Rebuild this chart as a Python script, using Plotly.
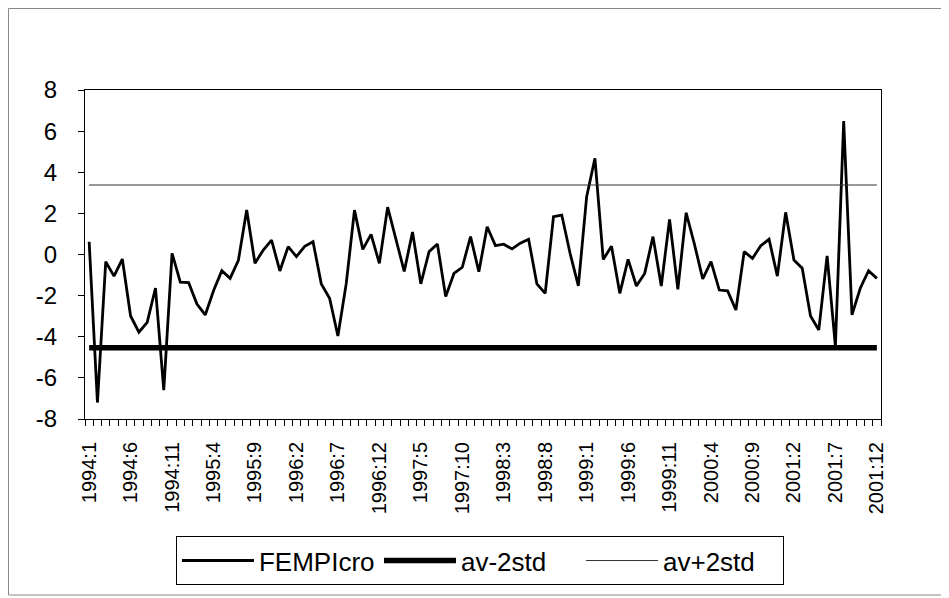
import plotly.graph_objects as go

# ---- data ----
years = [1994, 1995, 1996, 1997, 1998, 1999, 2000, 2001]
months = list(range(1, 13))
categories = [f"{y}:{m}" for y in years for m in months]

fempicro = [
    0.62, -7.2, -0.35, -1.05, -0.22, -2.99, -3.78, -3.3, -1.63, -6.6,
    0.06, -1.35, -1.37, -2.41, -2.94, -1.76, -0.79, -1.16, -0.28, 2.16,
    -0.43, 0.22, 0.7, -0.8, 0.38, -0.1, 0.4, 0.62, -1.43, -2.13,
    -3.96, -1.43, 2.16, 0.25, 0.98, -0.43, 2.3, 0.74, -0.82, 1.09,
    -1.43, 0.14, 0.51, -2.05, -0.92, -0.62, 0.87, -0.84, 1.35, 0.43,
    0.5, 0.27, 0.55, 0.74, -1.43, -1.89, 1.84, 1.92, 0.06, -1.53,
    2.81, 4.68, -0.24, 0.4, -1.89, -0.24, -1.53, -0.92, 0.87, -1.53,
    1.71, -1.69, 2.03, 0.5, -1.19, -0.35, -1.73, -1.77, -2.7, 0.14,
    -0.19, 0.43, 0.74, -1.05, 2.05, -0.27, -0.67, -2.99, -3.67, -0.07,
    -4.45, 6.49, -2.94, -1.64, -0.79, -1.16,
]
av_minus_2std_value = -4.53
av_plus_2std_value = 3.38
av_minus_2std = [av_minus_2std_value] * len(categories)
av_plus_2std = [av_plus_2std_value] * len(categories)

label_step = 5
xtick_labels = categories[::label_step]
ytick_values = [8, 6, 4, 2, 0, -2, -4, -6, -8]
ytick_labels = ["8", "6", "4", "2", "0", "-2", "-4", "-6", "-8"]

# ---- figure ----
idx = list(range(len(categories)))
FONT = "Liberation Sans, Arial, sans-serif"

fig = go.Figure()
fig.add_trace(go.Scatter(x=idx, y=fempicro, mode="lines", name="FEMPIcro",
                         line=dict(color="black", width=2.8),
                         customdata=categories,
                         hovertemplate="%{customdata}: %{y}<extra></extra>"))
fig.add_trace(go.Scatter(x=idx, y=av_minus_2std, mode="lines", name="av-2std",
                         line=dict(color="black", width=5.5)))
fig.add_trace(go.Scatter(x=idx, y=av_plus_2std, mode="lines", name="av+2std",
                         line=dict(color="#333333", width=1)))

fig.update_layout(
    width=941, height=590,
    margin=dict(l=77, r=68, t=82, b=179),
    paper_bgcolor="white", plot_bgcolor="white",
    font=dict(family=FONT, color="black"),
    showlegend=True,
    legend=dict(orientation="h", x=0.1143, xanchor="left", y=-0.356, yanchor="top",
                bordercolor="black", borderwidth=1, bgcolor="white",
                font=dict(size=26, family=FONT, color="black"),
                entrywidth=115, entrywidthmode="pixels", itemwidth=72),
    shapes=[dict(type="rect", xref="paper", yref="paper",
                 x0=-0.0961, x1=1.0817, y0=-0.535, y1=1.2477,
                 line=dict(color="#888888", width=1))],
)

fig.update_xaxes(
    range=[-0.5, len(categories) - 0.5],
    tickvals=idx[::label_step], ticktext=xtick_labels,
    tickangle=-90, ticks="", ticklabelstandoff=14,
    tickfont=dict(size=20, family=FONT, color="black"),
    showgrid=False, zeroline=False,
    showline=True, linecolor="black", linewidth=1, mirror=True,
    minor=dict(ticks="outside", tick0=-0.5, dtick=1, ticklen=6,
               tickcolor="black", tickwidth=1, showgrid=False),
)
fig.update_yaxes(
    range=[-8, 8], tickvals=ytick_values, ticktext=ytick_labels,
    ticks="outside", ticklen=6, tickcolor="black",
    tickfont=dict(size=24, family=FONT, color="black"),
    ticklabelstandoff=16,
    showgrid=False, zeroline=False,
    showline=True, linecolor="black", linewidth=1, mirror=True,
)

fig.write_html("out.html")
